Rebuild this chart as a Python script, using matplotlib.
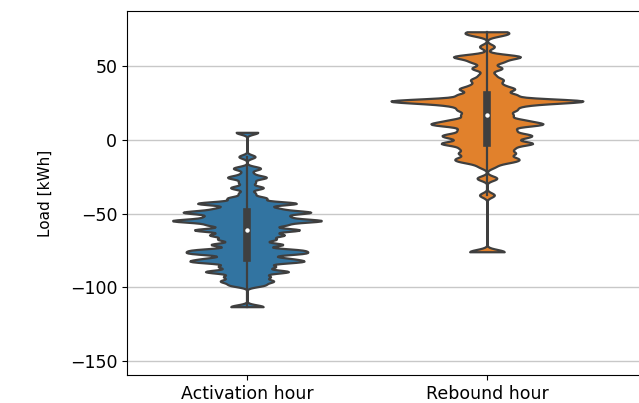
import numpy as np
import pandas as pd
import matplotlib as mpl
mpl.use('Agg')
import matplotlib.pyplot as plt
import seaborn as sns

# load levels (kWh) and how many hours sit at each level
act_levels = [5.2, -11.3, -19.2, -22.6, -25.4, -28.8, -32.4, -36.2, -39.5, -43,
              -46.4, -49.1, -52, -54.8, -57.7, -61.1, -64.5, -67.5, -71, -74.7,
              -77, -80.4, -82.6, -86, -89.4, -92.8, -95.8, -98.5, -113.2]
act_counts = [4, 3, 5, 2, 7, 3, 6, 3, 7, 18,
              10, 22, 13, 26, 13, 19, 13, 10, 13, 17,
              18, 12, 18, 10, 15, 8, 9, 6, 6]

reb_levels = [73.5, 71.5, 63.4, 56.6, 53.2, 48.7, 44.2, 40.8, 37.4, 34.5,
              30.6, 26.5, 23.5, 20.4, 17, 13.5, 10.6, 6.8, 3.4, 1.1,
              -2.3, -5.7, -9, -12.4, -14.7, -18, -26, -37.4, -75.9]
reb_counts = [6, 5, 3, 13, 6, 6, 3, 6, 5, 10,
              11, 37, 11, 10, 9, 12, 20, 10, 14, 9,
              17, 9, 10, 9, 8, 3, 4, 3, 7]

categories = ['Activation hour', 'Rebound hour']
colors = ['#1f77b4', '#ff7f0e']

df = pd.DataFrame({
    'hour': [categories[0]] * sum(act_counts) + [categories[1]] * sum(reb_counts),
    'load': np.concatenate([np.repeat(act_levels, act_counts),
                            np.repeat(reb_levels, reb_counts)]),
})

fig = plt.figure(figsize=(6.39, 4.03), dpi=100)
ax = fig.add_axes([0.1987, 0.0695, 0.845, 0.9032])

sns.violinplot(data=df, x='hour', y='load', hue='hour', palette=colors,
               inner='box', bw_method=0.055, cut=0, gridsize=300, common_norm=True,
               linewidth=1.6, inner_kws=dict(box_width=5.5, whis_width=1.6, marker='o'),
               legend=False, ax=ax)

# small white median dots
for line in ax.lines:
    if line.get_marker() == 'o':
        line.set_markersize(3.2)
        line.set_markeredgewidth(0)
        line.set_markerfacecolor('white')

ax.set_axisbelow(True)
ax.yaxis.grid(True, color='#c8c8c8', linewidth=1.0)
ax.set_xlim(-0.5, 1.75)
ax.set_ylim(-159.6, 87.6)
ax.set_yticks([-150, -100, -50, 0, 50])
ax.tick_params(axis='both', labelsize=12.5)
ax.set_xlabel('')
ax.set_ylabel('Load [kWh]', fontsize=11, labelpad=12)

fig.savefig('out.png', dpi=100)
